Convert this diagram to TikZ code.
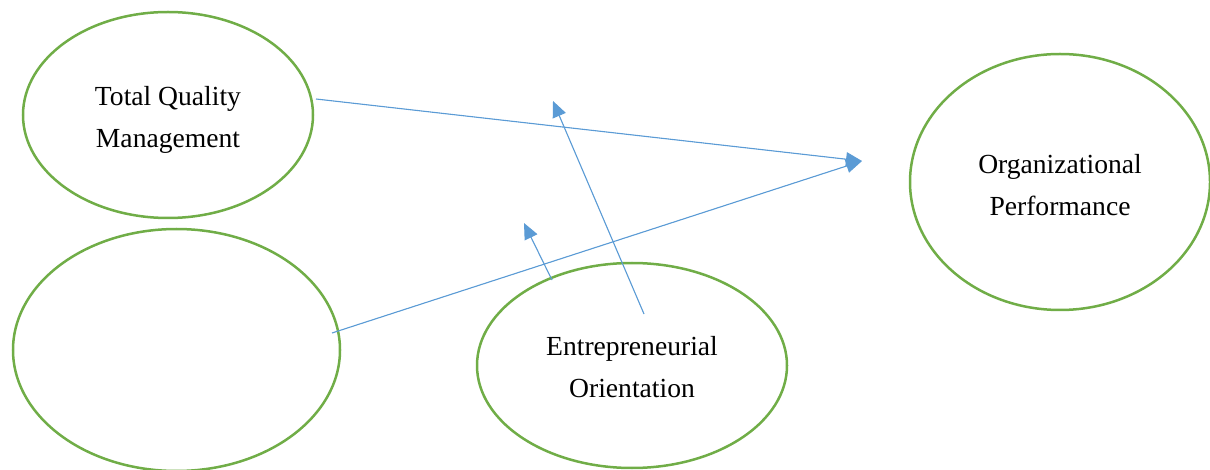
\documentclass[tikz,border=0pt]{standalone}
\usepackage{fontspec}
\setmainfont{Liberation Serif}
\usetikzlibrary{arrows.meta,shapes.geometric}
\definecolor{ringgreen}{HTML}{70AD47}
\definecolor{linkblue}{HTML}{5B9BD5}
\begin{document}
\begin{tikzpicture}[x=1pt,y=-1pt,
  construct/.style={draw=ringgreen, line width=2.5pt, ellipse, inner sep=0pt},
  caption/.style={align=center, inner sep=0pt, font=\fontsize{27.6}{42}\selectfont},
  link/.style={draw=linkblue, line width=1.1pt,
    -{Triangle[length=16pt,width=14pt]}, fill=linkblue}]
\useasboundingbox (0,0) rectangle (1210,470);
% constructs
\node[construct, minimum width=290pt, minimum height=206pt] (tqm) at (168,115) {};
\node[construct, minimum width=327pt, minimum height=242pt] (blank) at (176.5,350) {};
\node[construct, minimum width=310pt, minimum height=205pt] (eo) at (632,365.5) {};
\node[construct, minimum width=300pt, minimum height=256pt] (op) at (1060,182) {};
% their names
\node[caption] (tqmtext) at ([yshift=-5pt]tqm.center) {Total Quality\\Management};
\node[caption] (eotext) at ([yshift=-2pt]eo.center) {Entrepreneurial\\Orientation};
\node[caption] (optext) at ([yshift=-3pt]op.center) {Organizational\\Performance};
% connector end points
\coordinate (tqmout) at (316,99);
\coordinate (blankout) at (332,333);
\coordinate (optip) at (862,161);
\coordinate (eoout) at (644,314);
\coordinate (eotipa) at (553,101);
\coordinate (eoin) at (552,280);
\coordinate (eotipb) at (524,223);
% paths
\draw[link] (tqmout) -- (optip);
\draw[link] (blankout) -- (optip);
\draw[link] (eoout) -- (eotipa);
\draw[link] (eoin) -- (eotipb);
\end{tikzpicture}
\end{document}
